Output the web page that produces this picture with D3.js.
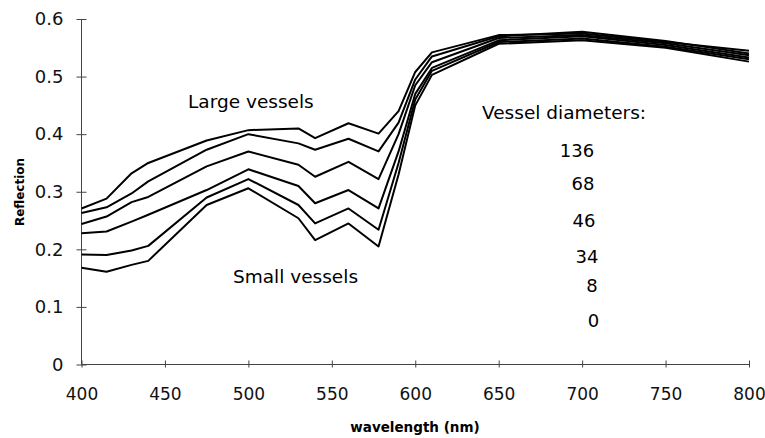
<!DOCTYPE html>
<html>
<head>
<meta charset="utf-8">
<script src="https://cdn.jsdelivr.net/npm/d3@7"></script>
<style>
body{margin:0;background:#fff;}
svg{display:block;font-family:"DejaVu Sans",sans-serif;}
.axis path,.axis line{stroke:#444;stroke-width:1;}
.curve{fill:none;stroke:#000;stroke-width:2;stroke-linejoin:round;}
</style>
</head>
<body>
<svg id="chart" width="765" height="438"></svg>
<script>
// wavelength samples (nm)
var wavelengths=[400,415,430,440,475,500,530,540,560,578,590,600,610,650,700,750,800];
// reflection per vessel diameter
var d136=[0.271,0.288,0.332,0.350,0.389,0.407,0.410,0.393,0.419,0.401,0.440,0.508,0.542,0.572,0.575,0.560,0.545];
var d68 =[0.263,0.273,0.297,0.318,0.373,0.400,0.384,0.373,0.392,0.370,0.420,0.495,0.535,0.570,0.578,0.562,0.540];
var d46 =[0.244,0.257,0.282,0.291,0.344,0.370,0.347,0.326,0.352,0.322,0.400,0.485,0.525,0.567,0.572,0.558,0.537];
var d34 =[0.228,0.231,0.248,0.260,0.303,0.339,0.310,0.280,0.303,0.271,0.370,0.470,0.515,0.563,0.570,0.555,0.533];
var d8  =[0.191,0.190,0.198,0.206,0.290,0.322,0.277,0.245,0.271,0.234,0.350,0.460,0.510,0.560,0.566,0.552,0.530];
var d0  =[0.168,0.161,0.173,0.180,0.277,0.306,0.254,0.216,0.245,0.205,0.330,0.450,0.503,0.557,0.563,0.550,0.526];
var series=[d136,d68,d46,d34,d8,d0];
var diameters=["136","68","46","34","8","0"];
var xTicks=[400,450,500,550,600,650,700,750,800];
var yTicks=[0,0.1,0.2,0.3,0.4,0.5,0.6];

var margin={top:19,right:16,bottom:73.5,left:81.5};
var W=765,H=438;
var svg=d3.select("#chart");

var x=d3.scaleLinear().domain([400,800]).range([margin.left,W-margin.right]);
var y=d3.scaleLinear().domain([0,0.6]).range([H-margin.bottom,margin.top]);

// axes
var xAxis=svg.append("g").attr("class","axis")
  .attr("transform","translate(0,"+(H-margin.bottom)+")")
  .call(d3.axisBottom(x).tickValues(xTicks).tickFormat(d3.format("d")).tickSize(0).tickPadding(23));
xAxis.selectAll(".tick line").attr("y1",-4).attr("y2",3);
xAxis.select(".domain").attr("d","M"+x(400)+",0H"+x(800));

var yAxis=svg.append("g").attr("class","axis")
  .attr("transform","translate("+margin.left+",0)")
  .call(d3.axisLeft(y).tickValues(yTicks).tickFormat(function(d){return d===0?"0":d3.format(".1f")(d);}).tickSize(0).tickPadding(18));
yAxis.selectAll(".tick line").attr("x1",-5).attr("x2",5);
yAxis.select(".domain").attr("d","M0,"+y(0)+"V"+y(0.6));

svg.selectAll(".axis").attr("font-family",null).attr("font-size",null);
yAxis.selectAll("text").style("font-size","18px").style("fill","#111");
xAxis.selectAll("text").style("font-size","17px").style("fill","#111");

// curves
var line=d3.line()
  .x(function(d,i){return x(wavelengths[i]);})
  .y(function(d){return y(d);});
svg.append("g").selectAll("path")
  .data(series)
  .enter().append("path")
  .attr("class","curve")
  .attr("d",line);

// axis titles
svg.append("text")
  .attr("x",415).attr("y",432)
  .attr("text-anchor","middle")
  .style("font-size","13.5px").style("font-weight","bold")
  .text("wavelength (nm)");
svg.append("text")
  .attr("transform","translate(24,192) rotate(-90)")
  .attr("text-anchor","middle")
  .style("font-size","12px").style("font-weight","bold")
  .text("Reflection");

// annotations
svg.append("text").attr("x",188).attr("y",108).style("font-size","18.5px").text("Large vessels");
svg.append("text").attr("x",233).attr("y",283).style("font-size","18.5px").text("Small vessels");
svg.append("text").attr("x",482).attr("y",119).style("font-size","18.5px").text("Vessel diameters:");

var labX=[577,583,584,587,592,593.5], labY=[157,190,227,263,292,327];
svg.append("g").selectAll("text")
  .data(diameters)
  .enter().append("text")
  .attr("x",function(d,i){return labX[i];})
  .attr("y",function(d,i){return labY[i];})
  .attr("text-anchor","middle")
  .style("font-size","18px")
  .text(function(d){return d;});
</script>
</body>
</html>
